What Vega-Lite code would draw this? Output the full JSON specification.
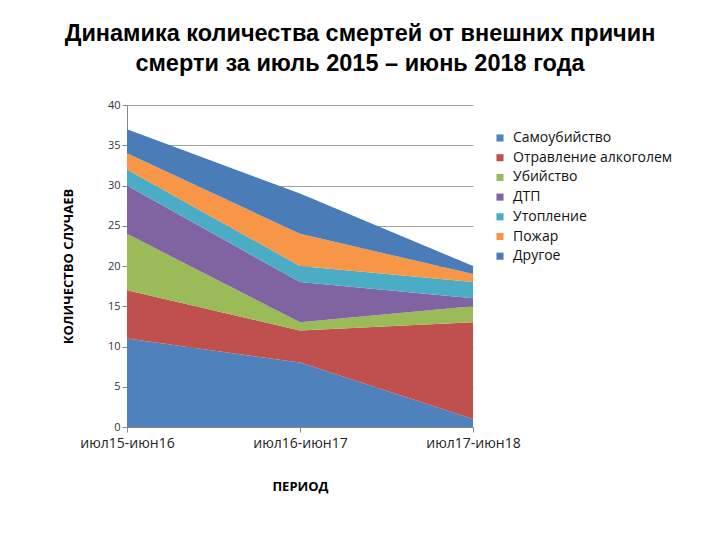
{
  "$schema": "https://vega.github.io/schema/vega-lite/v6.json",
  "width": 346,
  "height": 322,
  "autosize": {"type": "none"},
  "padding": {"left": 127, "top": 105, "right": 247, "bottom": 113},
  "background": "white",
  "title": {
    "text": ["Динамика количества смертей от внешних причин", "смерти за июль 2015 – июнь 2018 года"],
    "font": "Liberation Sans",
    "fontSize": 23.5,
    "fontWeight": "bold",
    "color": "#000000",
    "anchor": "middle",
    "dx": 60,
    "offset": 24,
    "lineHeight": 30
  },
  "data": {
    "values": [
      {"period": "июл15-июн16", "cause": " Самоубийство", "k": 1, "value": 11},
      {"period": "июл16-июн17", "cause": " Самоубийство", "k": 1, "value": 8},
      {"period": "июл17-июн18", "cause": " Самоубийство", "k": 1, "value": 1},
      {"period": "июл15-июн16", "cause": "Отравление алкоголем", "k": 2, "value": 6},
      {"period": "июл16-июн17", "cause": "Отравление алкоголем", "k": 2, "value": 4},
      {"period": "июл17-июн18", "cause": "Отравление алкоголем", "k": 2, "value": 12},
      {"period": "июл15-июн16", "cause": "Убийство", "k": 3, "value": 7},
      {"period": "июл16-июн17", "cause": "Убийство", "k": 3, "value": 1},
      {"period": "июл17-июн18", "cause": "Убийство", "k": 3, "value": 2},
      {"period": "июл15-июн16", "cause": "ДТП", "k": 4, "value": 6},
      {"period": "июл16-июн17", "cause": "ДТП", "k": 4, "value": 5},
      {"period": "июл17-июн18", "cause": "ДТП", "k": 4, "value": 1},
      {"period": "июл15-июн16", "cause": "Утопление", "k": 5, "value": 2},
      {"period": "июл16-июн17", "cause": "Утопление", "k": 5, "value": 2},
      {"period": "июл17-июн18", "cause": "Утопление", "k": 5, "value": 2},
      {"period": "июл15-июн16", "cause": "Пожар", "k": 6, "value": 2},
      {"period": "июл16-июн17", "cause": "Пожар", "k": 6, "value": 4},
      {"period": "июл17-июн18", "cause": "Пожар", "k": 6, "value": 1},
      {"period": "июл15-июн16", "cause": "Другое", "k": 7, "value": 3},
      {"period": "июл16-июн17", "cause": "Другое", "k": 7, "value": 5},
      {"period": "июл17-июн18", "cause": "Другое", "k": 7, "value": 1}
    ]
  },
  "mark": {"type": "area", "opacity": 1},
  "encoding": {
    "x": {
      "field": "period",
      "type": "ordinal",
      "sort": ["июл15-июн16", "июл16-июн17", "июл17-июн18"],
      "scale": {"type": "point", "padding": 0},
      "axis": {
        "title": "ПЕРИОД",
        "labelAngle": 0,
        "labelFont": "Open Sans",
        "labelFontSize": 14,
        "labelColor": "#222222",
        "labelPadding": 4,
        "titleFont": "Open Sans",
        "titleFontSize": 13,
        "titleFontWeight": "bold",
        "titleColor": "#000000",
        "titlePadding": 30,
        "domainColor": "#888888",
        "tickColor": "#888888",
        "tickSize": 5,
        "grid": false
      }
    },
    "y": {
      "field": "value",
      "type": "quantitative",
      "stack": "zero",
      "scale": {"domain": [0, 40], "nice": false},
      "axis": {
        "title": "КОЛИЧЕСТВО СЛУЧАЕВ",
        "values": [0, 5, 10, 15, 20, 25, 30, 35, 40],
        "labelFont": "Open Sans",
        "labelFontSize": 11,
        "labelColor": "#333333",
        "titleFont": "Open Sans",
        "titleFontSize": 13,
        "titleFontWeight": "bold",
        "titleColor": "#000000",
        "titlePadding": 32,
        "domainColor": "#888888",
        "tickColor": "#888888",
        "tickSize": 5,
        "grid": true,
        "gridColor": "#a0a0a0",
        "gridWidth": 1
      }
    },
    "color": {
      "field": "cause",
      "type": "nominal",
      "scale": {
        "domain": [" Самоубийство", "Отравление алкоголем", "Убийство", "ДТП", "Утопление", "Пожар", "Другое"],
        "range": ["#4F81BD", "#C0504D", "#9BBB59", "#8064A2", "#4BACC6", "#F79646", "#4A7CB8"]
      },
      "legend": {
        "title": null,
        "orient": "none",
        "legendX": 366,
        "legendY": 26,
        "symbolType": "square",
        "symbolSize": 50,
        "symbolStrokeWidth": 0,
        "labelFont": "Open Sans",
        "labelFontSize": 14,
        "labelColor": "#111111",
        "rowPadding": 5.7,
        "labelOffset": 6
      }
    },
    "order": {"field": "k", "type": "quantitative", "sort": "ascending"}
  },
  "config": {"view": {"stroke": null}}
}
